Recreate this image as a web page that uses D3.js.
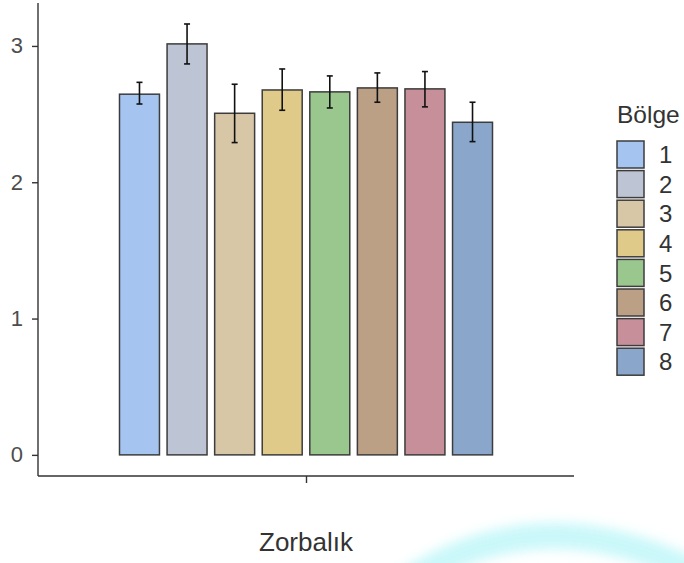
<!DOCTYPE html>
<html>
<head>
<meta charset="utf-8">
<script src="https://cdn.jsdelivr.net/npm/d3@7/dist/d3.min.js"></script>
<style>
  html, body { margin: 0; padding: 0; background: #fff; }
  svg { display: block; font-family: "Liberation Sans", Arial, sans-serif; }
</style>
</head>
<body>
<svg id="chart" width="684" height="563"></svg>
<script>
// ---- data ----
const category = ["Zorbalık"];
const regions = ["1", "2", "3", "4", "5", "6", "7", "8"];
const means = [2.646, 3.015, 2.506, 2.677, 2.663, 2.692, 2.685, 2.440];
const lower = [2.574, 2.868, 2.291, 2.528, 2.545, 2.587, 2.553, 2.298];
const upper = [2.733, 3.161, 2.719, 2.831, 2.780, 2.802, 2.812, 2.587];
const colors = ["#a5c4f0", "#bdc4d3", "#d7c7a7", "#e0ca89", "#9ac78d", "#bba086", "#c78f99", "#8aa7cb"];
const yTicks = [0, 1, 2, 3];
const legendTitle = "Bölge";

const svg = d3.select("#chart");

// faint cyan watermark arc at bottom right
const defs = svg.append("defs");
defs.append("filter").attr("id", "blur").attr("x", "-20%").attr("y", "-100%").attr("width", "140%").attr("height", "300%")
  .append("feGaussianBlur").attr("stdDeviation", 6);
svg.append("path")
  .attr("d", "M 395 590 Q 535 490 700 575")
  .attr("fill", "none").attr("stroke", "#c4f7f9").attr("stroke-width", 26)
  .attr("opacity", 0.9).attr("filter", "url(#blur)");

// ---- scales ----
const y = d3.scaleLinear().domain([-0.155, 3.315]).range([476, 3]);
const xOuter = d3.scalePoint().domain(category).range([38, 574]).padding(0.5);
const cx = xOuter(category[0]);
const groupHalf = 186.5;
const x = d3.scaleBand().domain(regions).range([cx - groupHalf, cx + groupHalf]).paddingInner(0.16).paddingOuter(0);

const textColor = "#4d4d4d";

// ---- axes ----
const yAxis = d3.axisLeft(y).tickValues(yTicks).tickSize(6).tickPadding(9).tickFormat(d3.format("d"));
const gy = svg.append("g").attr("transform", "translate(38,0)").call(yAxis);
gy.select(".domain").remove();
gy.append("line").attr("x1", 0).attr("x2", 0).attr("y1", y(y.domain()[0])).attr("y2", y(y.domain()[1]))
  .attr("stroke", "#333").attr("stroke-width", 1.4);
gy.selectAll(".tick line").attr("stroke", "#333").attr("stroke-width", 1.4);
gy.selectAll(".tick text").attr("fill", textColor).style("font-size", "22px")
  .style("font-family", "'Liberation Sans', Arial, sans-serif");

const xAxis = d3.axisBottom(xOuter).tickSize(7).tickFormat("");
const gx = svg.append("g").attr("transform", `translate(0,${y(y.domain()[0])})`).call(xAxis);
gx.select(".domain").remove();
gx.append("line").attr("x1", 38).attr("x2", 574).attr("y1", 0).attr("y2", 0)
  .attr("stroke", "#333").attr("stroke-width", 1.4);
gx.selectAll(".tick line").attr("stroke", "#333").attr("stroke-width", 1.4);

// ---- bars ----
const data = regions.map((r, i) => ({ r, m: means[i], lo: lower[i], hi: upper[i], c: colors[i] }));

svg.append("g").selectAll("rect").data(data).join("rect")
  .attr("x", d => x(d.r))
  .attr("y", d => y(d.m))
  .attr("width", x.bandwidth())
  .attr("height", d => y(0) - y(d.m))
  .attr("fill", d => d.c)
  .attr("stroke", "#3c3c3c")
  .attr("stroke-width", 1.5);

// ---- error bars ----
const eb = svg.append("g").attr("stroke", "#111").attr("stroke-width", 1.6);
const capW = 3;
data.forEach(d => {
  const xc = x(d.r) + x.bandwidth() / 2;
  eb.append("line").attr("x1", xc).attr("x2", xc).attr("y1", y(d.lo)).attr("y2", y(d.hi));
  eb.append("line").attr("x1", xc - capW).attr("x2", xc + capW).attr("y1", y(d.lo)).attr("y2", y(d.lo));
  eb.append("line").attr("x1", xc - capW).attr("x2", xc + capW).attr("y1", y(d.hi)).attr("y2", y(d.hi));
});

// ---- axis title ----
svg.append("text").attr("x", cx).attr("y", 551).attr("text-anchor", "middle")
  .attr("fill", "#333").style("font-size", "26px").text(category[0]);

// ---- legend ----
const lg = svg.append("g").attr("transform", "translate(617,0)");
lg.append("text").attr("x", 0).attr("y", 123).attr("fill", "#333").style("font-size", "24.5px").text(legendTitle);
const keyStep = 29.6, keySize = 27, keyTop = 141;
const items = lg.selectAll("g.item").data(data).join("g").attr("class", "item")
  .attr("transform", (d, i) => `translate(0,${keyTop + i * keyStep})`);
items.append("rect").attr("width", keySize).attr("height", keySize)
  .attr("fill", d => d.c).attr("stroke", "#3c3c3c").attr("stroke-width", 1.5);
items.append("text").attr("x", 42).attr("y", keySize / 2).attr("dy", "0.36em")
  .attr("fill", "#333").style("font-size", "24px").text(d => d.r);
</script>
</body>
</html>
